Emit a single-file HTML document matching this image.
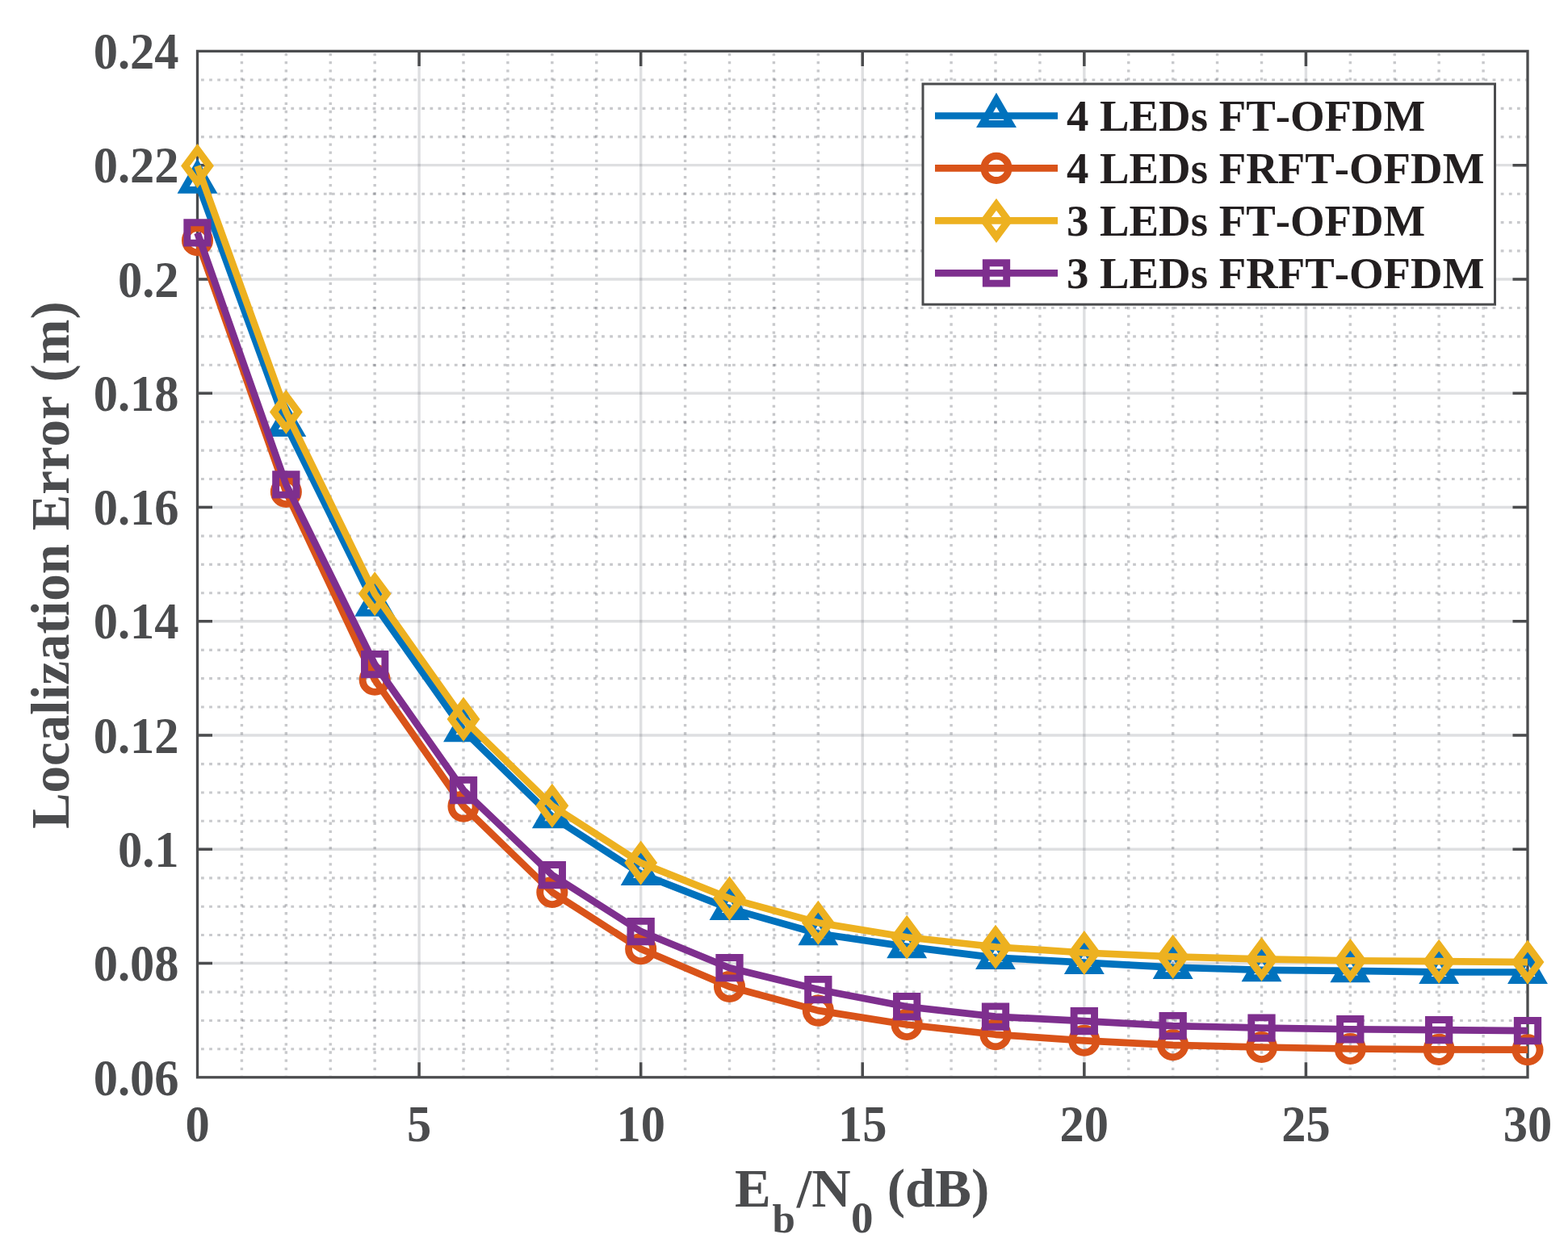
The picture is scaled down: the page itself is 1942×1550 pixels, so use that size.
<!DOCTYPE html>
<html><head><meta charset="utf-8"><title>Localization Error vs Eb/N0</title>
<style>html,body{margin:0;padding:0;background:#fff;}body{width:1942px;height:1550px;overflow:hidden;}svg{display:block;}text{font-family:"Liberation Serif","Times New Roman",serif;font-weight:bold;font-kerning:none;}</style></head><body>
<svg width="1942" height="1550" viewBox="0 0 1942 1550">
<rect x="0" y="0" width="1942" height="1550" fill="#fff"/>
<path d="M299.42 65.9V1333.2M354.33 65.9V1333.2M409.25 65.9V1333.2M464.17 65.9V1333.2M574 65.9V1333.2M628.92 65.9V1333.2M683.83 65.9V1333.2M738.75 65.9V1333.2M848.58 65.9V1333.2M903.5 65.9V1333.2M958.42 65.9V1333.2M1013.33 65.9V1333.2M1123.17 65.9V1333.2M1178.08 65.9V1333.2M1233 65.9V1333.2M1287.92 65.9V1333.2M1397.75 65.9V1333.2M1452.67 65.9V1333.2M1507.58 65.9V1333.2M1562.5 65.9V1333.2M1672.33 65.9V1333.2M1727.25 65.9V1333.2M1782.17 65.9V1333.2M1837.08 65.9V1333.2" stroke="#232733" stroke-opacity="0.25" stroke-width="3.4" stroke-dasharray="3.3 6.835" fill="none"/>
<path d="M249 1299.78H1890.4M249 1264.47H1890.4M249 1229.15H1890.4M249 1158.52H1890.4M249 1123.2H1890.4M249 1087.88H1890.4M249 1017.25H1890.4M249 981.93H1890.4M249 946.62H1890.4M249 875.98H1890.4M249 840.67H1890.4M249 805.35H1890.4M249 734.72H1890.4M249 699.4H1890.4M249 664.08H1890.4M249 593.45H1890.4M249 558.13H1890.4M249 522.82H1890.4M249 452.18H1890.4M249 416.87H1890.4M249 381.55H1890.4M249 310.92H1890.4M249 275.6H1890.4M249 240.28H1890.4M249 169.65H1890.4M249 134.33H1890.4M249 99.02H1890.4" stroke="#232733" stroke-opacity="0.25" stroke-width="3.1" stroke-dasharray="3.75 6.374" fill="none"/>
<path d="M519.08 63.4V1334.8M793.67 63.4V1334.8M1068.25 63.4V1334.8M1342.83 63.4V1334.8M1617.42 63.4V1334.8" stroke="#232a37" stroke-opacity="0.15" stroke-width="3.4" fill="none"/>
<path d="M244.5 1193.53H1892M244.5 1052.27H1892M244.5 911H1892M244.5 769.73H1892M244.5 628.47H1892M244.5 487.2H1892M244.5 345.93H1892M244.5 204.67H1892" stroke="#232a37" stroke-opacity="0.15" stroke-width="3.4" fill="none"/>
<path d="M519.08 1334.8V1316.3M519.08 63.4V81.9M793.67 1334.8V1316.3M793.67 63.4V81.9M1068.25 1334.8V1316.3M1068.25 63.4V81.9M1342.83 1334.8V1316.3M1342.83 63.4V81.9M1617.42 1334.8V1316.3M1617.42 63.4V81.9M244.5 1193.53H263M1892 1193.53H1873.5M244.5 1052.27H263M1892 1052.27H1873.5M244.5 911H263M1892 911H1873.5M244.5 769.73H263M1892 769.73H1873.5M244.5 628.47H263M1892 628.47H1873.5M244.5 487.2H263M1892 487.2H1873.5M244.5 345.93H263M1892 345.93H1873.5M244.5 204.67H263M1892 204.67H1873.5" stroke="#4b4c4e" stroke-width="3.5" fill="none"/>
<rect x="244.5" y="63.4" width="1647.5" height="1271.4" fill="none" stroke="#4b4c4e" stroke-width="3.3"/>
<g fill="#4b4c4e" font-size="60.5">
<text transform="translate(221.5 1356.5) scale(1 1.035)" text-anchor="end">0.06</text>
<text transform="translate(221.5 1215.23) scale(1 1.035)" text-anchor="end">0.08</text>
<text transform="translate(221.5 1073.97) scale(1 1.035)" text-anchor="end">0.1</text>
<text transform="translate(221.5 932.7) scale(1 1.035)" text-anchor="end">0.12</text>
<text transform="translate(221.5 791.43) scale(1 1.035)" text-anchor="end">0.14</text>
<text transform="translate(221.5 650.17) scale(1 1.035)" text-anchor="end">0.16</text>
<text transform="translate(221.5 508.9) scale(1 1.035)" text-anchor="end">0.18</text>
<text transform="translate(221.5 367.63) scale(1 1.035)" text-anchor="end">0.2</text>
<text transform="translate(221.5 226.37) scale(1 1.035)" text-anchor="end">0.22</text>
<text transform="translate(221.5 85.1) scale(1 1.035)" text-anchor="end">0.24</text>
<text transform="translate(244.5 1413.5) scale(1 1.035)" text-anchor="middle">0</text>
<text transform="translate(519.08 1413.5) scale(1 1.035)" text-anchor="middle">5</text>
<text transform="translate(793.67 1413.5) scale(1 1.035)" text-anchor="middle">10</text>
<text transform="translate(1068.25 1413.5) scale(1 1.035)" text-anchor="middle">15</text>
<text transform="translate(1342.83 1413.5) scale(1 1.035)" text-anchor="middle">20</text>
<text transform="translate(1617.42 1413.5) scale(1 1.035)" text-anchor="middle">25</text>
<text transform="translate(1892 1413.5) scale(1 1.035)" text-anchor="middle">30</text>
</g>
<text y="1494.6" fill="#4b4c4e" font-size="67"><tspan x="910">E</tspan><tspan x="956.55" y="1527.3" font-size="51">b</tspan><tspan x="986.75" y="1494.6">/N</tspan><tspan x="1054" y="1527.3" font-size="55">0</tspan><tspan x="1098.8" y="1494.6">(dB)</tspan></text>
<text transform="translate(84.9 700.2) rotate(-90)" text-anchor="middle" fill="#4b4c4e" font-size="66.9">Localization Error (m)</text>
<path d="M244.5 225.4L354.33 526.6L464.17 749.4L574 904.8L683.83 1011.8L793.67 1082.6L903.5 1125.6L1013.33 1156.8L1123.17 1172.9L1233 1186.6L1342.83 1192.6L1452.67 1198.7L1562.5 1201.8L1672.33 1202.9L1782.17 1204.5L1892 1204.5" fill="none" stroke="#0072bd" stroke-width="8.7" stroke-linejoin="round"/>
<path d="M244.5 205.5L261.73 235.35L227.27 235.35ZM354.33 506.7L371.57 536.55L337.1 536.55ZM464.17 729.5L481.4 759.35L446.93 759.35ZM574 884.9L591.23 914.75L556.77 914.75ZM683.83 991.9L701.07 1021.75L666.6 1021.75ZM793.67 1062.7L810.9 1092.55L776.43 1092.55ZM903.5 1105.7L920.73 1135.55L886.27 1135.55ZM1013.33 1136.9L1030.57 1166.75L996.1 1166.75ZM1123.17 1153L1140.4 1182.85L1105.93 1182.85ZM1233 1166.7L1250.23 1196.55L1215.77 1196.55ZM1342.83 1172.7L1360.07 1202.55L1325.6 1202.55ZM1452.67 1178.8L1469.9 1208.65L1435.43 1208.65ZM1562.5 1181.9L1579.73 1211.75L1545.27 1211.75ZM1672.33 1183L1689.57 1212.85L1655.1 1212.85ZM1782.17 1184.6L1799.4 1214.45L1764.93 1214.45ZM1892 1184.6L1909.23 1214.45L1874.77 1214.45Z" fill="none" stroke="#0072bd" stroke-width="8.9" stroke-miterlimit="10"/>
<path d="M244.5 297.7L354.33 609.5L464.17 842.3L574 999.1L683.83 1105.5L793.67 1175.8L903.5 1222.5L1013.33 1252.1L1123.17 1269.5L1233 1281.8L1342.83 1289.3L1452.67 1294.8L1562.5 1297.5L1672.33 1299.5L1782.17 1300.4L1892 1300.7" fill="none" stroke="#d95319" stroke-width="8.7" stroke-linejoin="round"/>
<g fill="none" stroke="#d95319" stroke-width="8.9">
<circle cx="244.5" cy="297.7" r="15.1"/>
<circle cx="354.33" cy="609.5" r="15.1"/>
<circle cx="464.17" cy="842.3" r="15.1"/>
<circle cx="574" cy="999.1" r="15.1"/>
<circle cx="683.83" cy="1105.5" r="15.1"/>
<circle cx="793.67" cy="1175.8" r="15.1"/>
<circle cx="903.5" cy="1222.5" r="15.1"/>
<circle cx="1013.33" cy="1252.1" r="15.1"/>
<circle cx="1123.17" cy="1269.5" r="15.1"/>
<circle cx="1233" cy="1281.8" r="15.1"/>
<circle cx="1342.83" cy="1289.3" r="15.1"/>
<circle cx="1452.67" cy="1294.8" r="15.1"/>
<circle cx="1562.5" cy="1297.5" r="15.1"/>
<circle cx="1672.33" cy="1299.5" r="15.1"/>
<circle cx="1782.17" cy="1300.4" r="15.1"/>
<circle cx="1892" cy="1300.7" r="15.1"/>
</g>
<path d="M244.5 205.6L354.33 510.4L464.17 735.7L574 891.1L683.83 998.3L793.67 1069.1L903.5 1113.1L1013.33 1143.3L1123.17 1161.2L1233 1173.3L1342.83 1180.5L1452.67 1185.3L1562.5 1188.45L1672.33 1190.25L1782.17 1191.2L1892 1192.1" fill="none" stroke="#edb120" stroke-width="8.7" stroke-linejoin="round"/>
<path d="M244.5 185.5L259.4 205.6L244.5 225.7L229.6 205.6ZM354.33 490.3L369.23 510.4L354.33 530.5L339.43 510.4ZM464.17 715.6L479.07 735.7L464.17 755.8L449.27 735.7ZM574 871L588.9 891.1L574 911.2L559.1 891.1ZM683.83 978.2L698.73 998.3L683.83 1018.4L668.93 998.3ZM793.67 1049L808.57 1069.1L793.67 1089.2L778.77 1069.1ZM903.5 1093L918.4 1113.1L903.5 1133.2L888.6 1113.1ZM1013.33 1123.2L1028.23 1143.3L1013.33 1163.4L998.43 1143.3ZM1123.17 1141.1L1138.07 1161.2L1123.17 1181.3L1108.27 1161.2ZM1233 1153.2L1247.9 1173.3L1233 1193.4L1218.1 1173.3ZM1342.83 1160.4L1357.73 1180.5L1342.83 1200.6L1327.93 1180.5ZM1452.67 1165.2L1467.57 1185.3L1452.67 1205.4L1437.77 1185.3ZM1562.5 1168.35L1577.4 1188.45L1562.5 1208.55L1547.6 1188.45ZM1672.33 1170.15L1687.23 1190.25L1672.33 1210.35L1657.43 1190.25ZM1782.17 1171.1L1797.07 1191.2L1782.17 1211.3L1767.27 1191.2ZM1892 1172L1906.9 1192.1L1892 1212.2L1877.1 1192.1Z" fill="none" stroke="#edb120" stroke-width="8.9" stroke-miterlimit="10"/>
<path d="M244.5 288.45L354.33 600.4L464.17 823.1L574 979.05L683.83 1084.2L793.67 1154.1L903.5 1199.2L1013.33 1226.05L1123.17 1247.2L1233 1259.6L1342.83 1265.1L1452.67 1271.05L1562.5 1273.6L1672.33 1275.25L1782.17 1276.15L1892 1277.2" fill="none" stroke="#7e2f8e" stroke-width="8.7" stroke-linejoin="round"/>
<path d="M231.8 275.75H257.2V301.15H231.8ZM341.63 587.7H367.03V613.1H341.63ZM451.47 810.4H476.87V835.8H451.47ZM561.3 966.35H586.7V991.75H561.3ZM671.13 1071.5H696.53V1096.9H671.13ZM780.97 1141.4H806.37V1166.8H780.97ZM890.8 1186.5H916.2V1211.9H890.8ZM1000.63 1213.35H1026.03V1238.75H1000.63ZM1110.47 1234.5H1135.87V1259.9H1110.47ZM1220.3 1246.9H1245.7V1272.3H1220.3ZM1330.13 1252.4H1355.53V1277.8H1330.13ZM1439.97 1258.35H1465.37V1283.75H1439.97ZM1549.8 1260.9H1575.2V1286.3H1549.8ZM1659.63 1262.55H1685.03V1287.95H1659.63ZM1769.47 1263.45H1794.87V1288.85H1769.47ZM1879.3 1264.5H1904.7V1289.9H1879.3Z" fill="none" stroke="#7e2f8e" stroke-width="8.9" stroke-miterlimit="10"/>
<rect x="1143" y="104" width="708.5" height="273.2" fill="#fff" stroke="#4b4c4e" stroke-width="3"/>
<path d="M1158 143.5H1310" stroke="#0072bd" stroke-width="8.7"/>
<path d="M1234 123.6L1251.23 153.45L1216.77 153.45Z" fill="none" stroke="#0072bd" stroke-width="8.9" stroke-miterlimit="10"/>
<text x="1320.9" y="162.1" fill="#231f20" font-size="54.8">4 LEDs FT-OFDM</text>
<path d="M1158 208.4H1310" stroke="#d95319" stroke-width="8.7"/>
<circle cx="1234" cy="208.4" r="15.1" fill="none" stroke="#d95319" stroke-width="8.9"/>
<text x="1320.9" y="227" fill="#231f20" font-size="54.8">4 LEDs FRFT-OFDM</text>
<path d="M1158 273.4H1310" stroke="#edb120" stroke-width="8.7"/>
<path d="M1234 253.3L1248.9 273.4L1234 293.5L1219.1 273.4Z" fill="none" stroke="#edb120" stroke-width="8.9" stroke-miterlimit="10"/>
<text x="1320.9" y="292" fill="#231f20" font-size="54.8">3 LEDs FT-OFDM</text>
<path d="M1158 338.4H1310" stroke="#7e2f8e" stroke-width="8.7"/>
<path d="M1221.3 325.7H1246.7V351.1H1221.3Z" fill="none" stroke="#7e2f8e" stroke-width="8.9" stroke-miterlimit="10"/>
<text x="1320.9" y="357" fill="#231f20" font-size="54.8">3 LEDs FRFT-OFDM</text>
</svg>
</body></html>
